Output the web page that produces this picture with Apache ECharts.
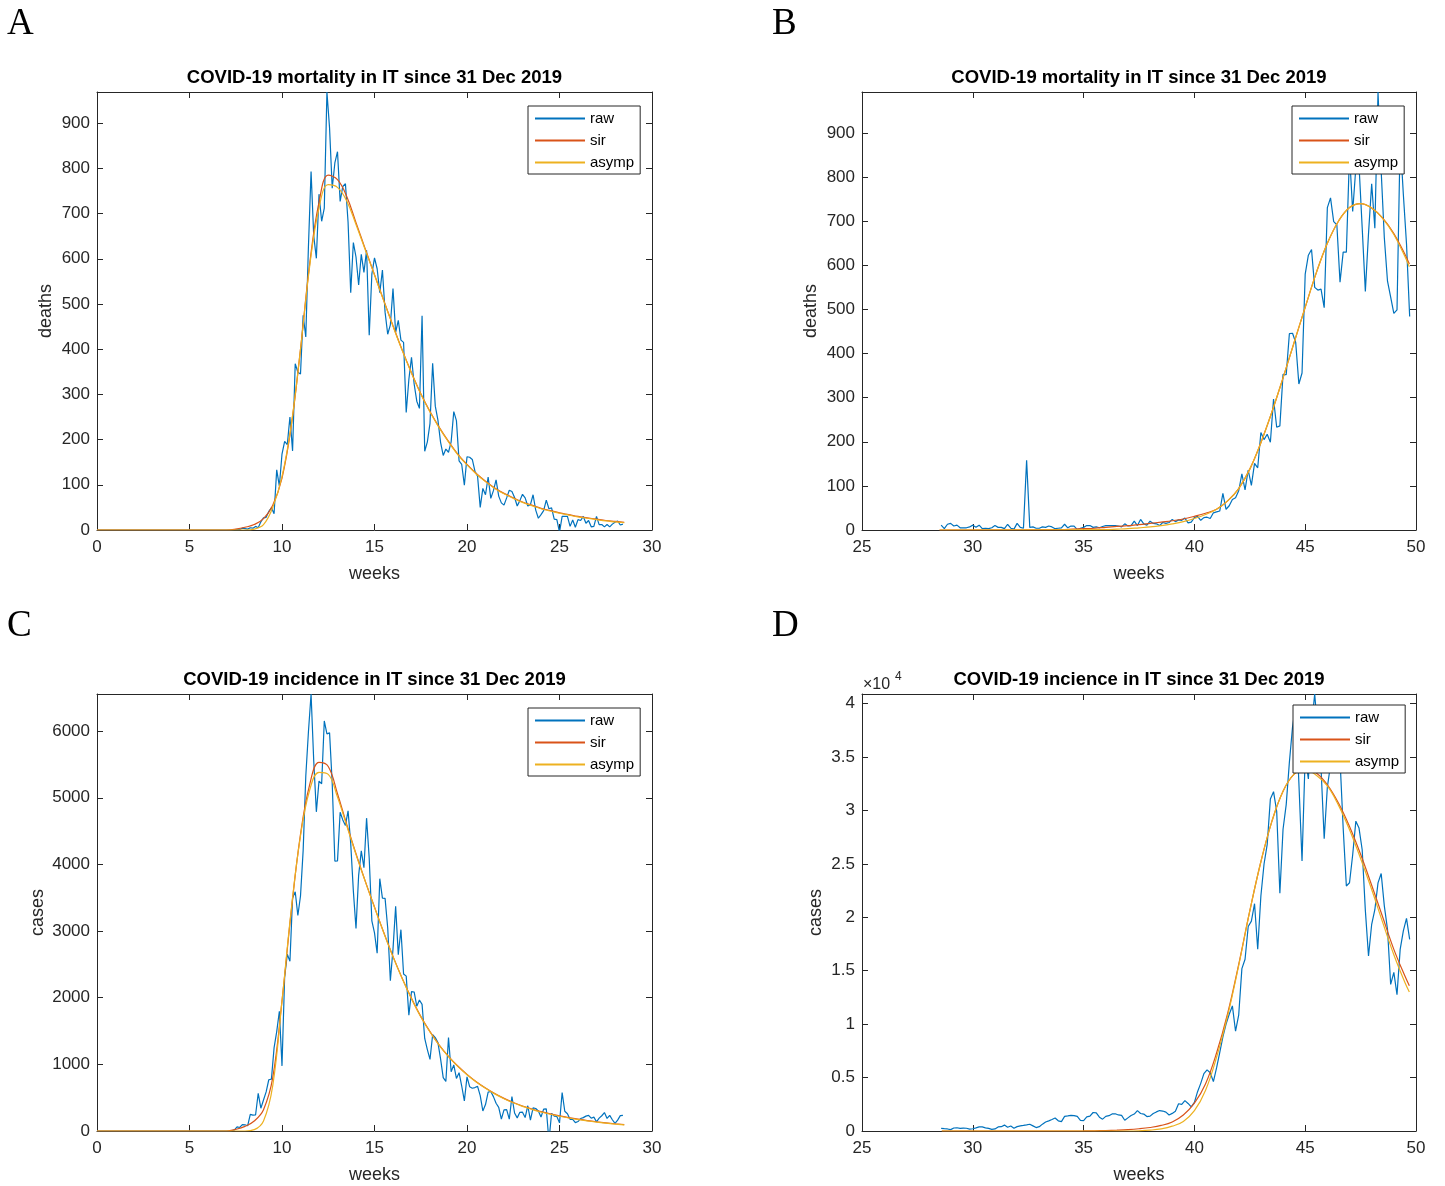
<!DOCTYPE html>
<html><head><meta charset="utf-8">
<script src="https://cdn.jsdelivr.net/npm/echarts@6/dist/echarts.min.js"></script>
<style>html,body{margin:0;padding:0;background:#fff}#c{width:1445px;height:1186px}</style>
</head><body><div id="c"></div>
<script>
// ---------- DATA ----------
// daily values; day 0 = 31 Dec 2019; x = day / 7 (weeks)
const deathsA_startDay = 0;
const deathsA = [
 0,0,0,0,0,0,0,0,0,0, 0,0,0,0,0,0,0,0,0,0, 0,0,0,0,0,0,0,0,0,0, 0,0,0,0,0,0,0,0,0,0, 0,0,0,0,0,0,0,0,0,0, 0,0,
 1,1,1,4,3,2,5,4,8,
 5,18,27,28,41,49,36,133,97,168,196,189,250,175,368,349,345,475,427,627,793,651,601,743,683,712,969,889,756,812,837,
 727,760,766,681,525,636,604,542,610,570,619,431,566,602,578,525,575,482,433,454,534,437,464,420,415,260,333,382,323,285,
 269,474,174,195,236,369,274,243,194,165,179,172,195,262,242,153,145,99,162,161,156,130,119,50,92,78,117,70,87,111,75,
 60,55,71,88,85,72,53,65,79,71,53,56,78,44,26,34,43,66,47,49,24,23,-5,30,30,30,8,22,6,23,
 21,30,15,21,7,8,30,12,12,7,12,7,13,17,20,11,13
];
const casesC_startDay = 0;
const casesC = [
 0,0,0,0,0,0,0,0,0,0, 0,0,0,0,0,0,0,0,0,0, 0,0,0,0,0,0,0,0,0,0, 0,0,0,0,0,0,0,0,0,0, 0,0,0,0,0,0,0,0,0,0, 0,
 3,17,62,53,97,93,78,250,238,240,
 566,342,466,587,769,778,1247,1492,1797,977,2313,2651,2547,3497,3590,3233,3526,4207,5322,5986,6557,5560,4789,5249,5210,6153,5959,5974,5217,4050,4053,
 4782,4668,4585,4805,4316,3599,3039,3836,4204,3951,4694,4092,3153,2972,2667,3786,3493,3491,3047,2256,2729,3370,2646,3021,2357,2324,1739,2091,2086,1872,
 1965,1900,1389,1221,1075,1444,1401,1327,1083,802,744,1402,888,992,789,875,675,451,813,665,642,652,669,531,300,397,584,593,516,416,355,
 178,318,321,177,518,270,197,280,283,202,379,163,346,338,301,210,328,333,-148,262,224,218,122,577,296,259,175,174,126,142,
 187,201,223,235,192,208,138,193,229,276,188,234,169,114,163,230,233
];
const deathsB_startDay = 200;
const deathsB = [
 11,3,13,15,9,11,5,5,5,7,11,6,11,3,
 4,3,5,10,6,6,3,13,4,2,15,6,4,158,6,7,4,4,7,6,9,7,3,4,5,13,5,9,9,1,4,
 6,10,10,6,7,5,8,10,10,10,10,9,7,14,9,10,20,10,24,14,11,20,15,14,10,17,15,17,24,19,
 23,22,27,16,18,28,31,22,28,29,26,39,41,43,83,47,55,69,73,89,127,91,136,101,151,141,221,205,217,199,297,
 233,236,353,352,445,446,425,331,356,580,623,636,550,544,546,504,731,753,699,692,562,630,630,853,722,822,827,686,541,672,
 785,684,993,814,662,564,528,491,499,887,761,649,484
];
const casesD_startDay = 200;
const casesD = [
 249,219,190,129,282,306,252,275,255,170,212,289,386,379,
 295,239,159,190,384,402,552,347,463,259,412,481,523,574,629,479,320,403,642,845,947,1071,1210,953,878,1367,1411,1462,1444,1365,996,
 978,1326,1397,1733,1695,1297,1108,1370,1434,1597,1616,1501,1458,1008,1229,1452,1585,1907,1638,1587,1350,1392,1640,1786,1912,1869,1766,1494,1648,1851,
 2548,2499,2844,2578,2257,2677,3678,4458,5372,5724,5456,4619,5901,7332,8804,10010,10925,11705,9338,10874,15199,16079,19143,19644,21273,17012,21994,24991,26831,31084,31758,
 29907,22253,28244,30550,34505,37809,39811,32616,25271,35098,32961,37978,40902,37255,33979,27354,32191,34283,36176,37242,34767,28337,22930,23232,25853,29003,28352,26323,20648,16377,
 19350,20709,23225,24099,21052,18887,13720,14842,12756,16999,18727,19903,17938
];
// fitted curves, read at knots (weeks)
const sirA_weeks   = [0,7,7.5,8,8.5,9,9.5,10,10.5,11,11.5,12,12.5,13,13.5,14,14.5,15,15.5,16,16.5,17,17.5,18,18.5,19,19.5,20,20.5,21,21.5,22,22.5,23,23.5,24,24.5,25,25.5,26,26.5,27,27.5,28,28.5];
const sirA_values  = [0,0,2,6,12,25,55,115,230,400,590,725,785,775,738,680,622,565,508,452,398,348,302,262,227,196,168,145,125,108,93,81,71,62,55,48,43,38,34,30,27,24,21,19,17];
const asympA_weeks = [0,8,8.5,9,9.5,10,10.5,11,11.5,12,12.5,13,13.5,14,14.5,15,15.5,16,16.5,17,17.5,18,18.5,19,19.5,20,20.5,21,21.5,22,22.5,23,23.5,24,24.5,25,25.5,26,26.5,27,27.5,28,28.5];
const asympA_values= [0,0,2,12,50,118,232,400,585,712,764,758,728,676,620,564,507,451,397,347,301,261,226,195,167,144,124,107,92,80,70,61,54,47,42,37,33,29,26,23,20,18,16];
const sirC_weeks   = [0,7,7.5,8,8.5,9,9.5,10,10.5,11,11.5,12,12.5,13,13.5,14,14.5,15,15.5,16,16.5,17,17.5,18,18.5,19,19.5,20,20.5,21,21.5,22,22.5,23,23.5,24,24.5,25,25.5,26,26.5,27,27.5,28,28.5];
const sirC_values  = [0,0,25,70,150,320,800,1950,3300,4450,5200,5530,5470,5060,4600,4160,3750,3360,2980,2620,2290,1990,1720,1490,1290,1120,975,850,740,645,562,490,428,375,330,290,256,226,200,177,157,139,123,109,97];
const asympC_weeks = [0,8,8.5,9,9.5,10,10.5,11,11.5,12,12.5,13,13.5,14,14.5,15,15.5,16,16.5,17,17.5,18,18.5,19,19.5,20,20.5,21,21.5,22,22.5,23,23.5,24,24.5,25,25.5,26,26.5,27,27.5,28,28.5];
const asympC_values= [0,0,20,150,680,1950,3320,4430,5120,5380,5350,5010,4580,4150,3745,3355,2975,2615,2285,1985,1715,1485,1285,1115,970,845,735,640,557,485,423,370,325,285,251,221,195,172,152,134,118,104,92];
const sirB_weeks   = [28.5,34,34.5,35,35.5,36,36.5,37,37.5,38,38.5,39,39.5,40,40.5,41,41.5,42,42.5,43,43.5,44,44.5,45,45.5,46,46.5,47,47.5,48,48.5,49,49.5,49.7];
const sirB_values  = [0,1,2,3,4,6,8,10,12,15,18,21,25,31,38,47,66,94,138,198,268,345,425,505,583,650,700,731,740,730,707,672,625,603];
const asympB_weeks = [28.5,36,36.5,37,37.5,38,38.5,39,39.5,40,40.5,41,41.5,42,42.5,43,43.5,44,44.5,45,45.5,46,46.5,47,47.5,48,48.5,49,49.5,49.7];
const asympB_values= [0,1,2,3,5,7,10,14,19,26,35,47,66,94,138,198,268,345,425,505,583,650,700,731,740,730,706,670,620,597];
const sirD_weeks   = [28.6,34.5,35,35.5,36,36.5,37,37.5,38,38.5,39,39.5,40,40.5,41,41.5,42,42.5,43,43.5,44,44.5,45,45.5,46,46.5,47,47.5,48,48.5,49,49.5,49.7];
const sirD_values  = [0,0,5,20,45,80,130,210,330,520,850,1500,2600,4400,7300,11000,15600,20600,25200,29000,31800,33400,33900,33500,32400,30700,28500,25900,23000,20000,17000,14500,13600];
const asympD_weeks = [28.6,37,37.5,38,38.5,39,39.5,40,40.5,41,41.5,42,42.5,43,43.5,44,44.5,45,45.5,46,46.5,47,47.5,48,48.5,49,49.5,49.7];
const asympD_values= [0,0,20,80,200,450,900,1900,3800,6900,10800,15500,20600,25200,29000,31800,33400,33800,33300,32300,30500,28200,25500,22600,19500,16500,13900,13000];

const panelTitles = ['COVID-19 mortality in IT since 31 Dec 2019','COVID-19 mortality in IT since 31 Dec 2019','COVID-19 incidence in IT since 31 Dec 2019','COVID-19 incience in IT since 31 Dec 2019'];
const panelLetters = ['A','B','C','D'];
const yNames = ['deaths','deaths','cases','cases'];
const xRanges = [[0,30],[25,50],[0,30],[25,50]];
const yMax = [969, 993, 6557, 40902];
const yInterval = [100, 100, 1000, 5000];
const seriesNames = ['raw','sir','asymp'];

// ---------- BUILD ----------
const FONT = '"Liberation Sans", Arial, sans-serif';
const TXT = '#262626';
const colors = ['#0072BD','#D95319','#EDB120'];
function daily(start, arr){ return arr.map((v,i)=>[(start+i)/7, v]); }
function knots(w, v){ return w.map((x,i)=>[x, v[i]]); }

const grids = [
  {left:97, top:92, width:555, height:438},
  {left:862, top:92, width:554, height:438},
  {left:97, top:694, width:555, height:437},
  {left:862, top:694, width:554, height:437}
];
const rawData = [daily(deathsA_startDay,deathsA), daily(deathsB_startDay,deathsB), daily(casesC_startDay,casesC), daily(casesD_startDay,casesD)];
const sirData = [knots(sirA_weeks,sirA_values), knots(sirB_weeks,sirB_values), knots(sirC_weeks,sirC_values), knots(sirD_weeks,sirD_values)];
const asyData = [knots(asympA_weeks,asympA_values), knots(asympB_weeks,asympB_values), knots(asympC_weeks,asympC_values), knots(asympD_weeks,asympD_values)];
const legendPos = [[528,106],[1292,106],[528,708],[1293,705]];

const xAxis=[], yAxis=[], series=[], legend=[], graphic=[];
grids.forEach((g,i)=>{
  const lineS = {show:true, onZero:false, lineStyle:{color:TXT, width:1}};
  const tickS = {show:true, inside:true, length:6, lineStyle:{color:TXT, width:1}};
  xAxis.push({gridIndex:i, type:'value', position:'bottom', min:xRanges[i][0], max:xRanges[i][1], interval:5,
    axisLine:lineS, axisTick:tickS, splitLine:{show:false},
    axisLabel:{color:TXT, fontSize:17, fontFamily:FONT, margin:9},
    name:'weeks', nameLocation:'middle', nameGap:35, nameTextStyle:{color:TXT, fontSize:18, fontFamily:FONT}});
  xAxis.push({gridIndex:i, type:'value', position:'top', min:xRanges[i][0], max:xRanges[i][1], interval:5,
    axisLine:lineS, axisTick:tickS, splitLine:{show:false}, axisLabel:{show:false}});
  const iv = yInterval[i];
  yAxis.push({gridIndex:i, type:'value', position:'left', min:0, max:yMax[i], interval:iv,
    axisLine:lineS, axisTick:tickS, splitLine:{show:false},
    axisLabel:{color:TXT, fontSize:17, fontFamily:FONT, margin:7, showMaxLabel:false,
      formatter:(v)=> (v % iv === 0) ? (i===3 ? String(v/10000) : String(v)) : ''},
    name:yNames[i], nameLocation:'middle', nameGap: (i===3? 37 : (i===2? 50 : 42)), nameTextStyle:{color:TXT, fontSize:18, fontFamily:FONT}});
  yAxis.push({gridIndex:i, type:'value', position:'right', min:0, max:yMax[i], interval:iv,
    axisLine:lineS, axisTick:tickS, splitLine:{show:false}, axisLabel:{show:false}});
  const datas = [rawData[i], sirData[i], asyData[i]];
  datas.forEach((d,k)=>{
    const s = {type:'line', name:seriesNames[k], xAxisIndex:2*i, yAxisIndex:2*i, data:d,
      symbol:'none', showSymbol:false, clip:true, color:colors[k],
      lineStyle:{color:colors[k], width:1.2}, z:2+k};
    if (k>0){ s.smooth = 0.4; }
    series.push(s);
  });
  legend.push({orient:'vertical', left:legendPos[i][0], top:legendPos[i][1], data:seriesNames,
    itemWidth:50, itemHeight:14, itemGap:7, padding:[5,6,4,6], borderColor:TXT, borderWidth:1, borderRadius:0,
    itemStyle:{opacity:0, borderWidth:0},
    backgroundColor:'#fff', selectedMode:false, textStyle:{color:'#000', fontSize:15, fontFamily:FONT}, z:10});
  graphic.push({type:'text', x:g.left + g.width/2, y:g.top - 14, z:10,
    style:{text:panelTitles[i], font:'bold 18.5px '+FONT, fill:'#000', textAlign:'center', textVerticalAlign:'middle'}});
  graphic.push({type:'text', x: i%2===0 ? 7 : 772, y: i<2 ? 24 : 626, z:10,
    style:{text:panelLetters[i], font:'37px "Liberation Serif", "DejaVu Serif", serif', fill:'#000', textAlign:'left', textVerticalAlign:'middle'}});
});
graphic.push({type:'text', x:863, y:685, z:10, style:{text:'\u00d710', font:'16px '+FONT, fill:TXT, textAlign:'left', textVerticalAlign:'middle'}});
graphic.push({type:'text', x:895, y:677, z:10, style:{text:'4', font:'12px '+FONT, fill:TXT, textAlign:'left', textVerticalAlign:'middle'}});

const chart = echarts.init(document.getElementById('c'), null, {renderer:'canvas'});
chart.setOption({animation:false, backgroundColor:'#fff', grid:grids.map(g=>Object.assign({outerBoundsMode:'none', containLabel:false}, g)),
  xAxis, yAxis, series, legend, graphic});
</script></body></html>
